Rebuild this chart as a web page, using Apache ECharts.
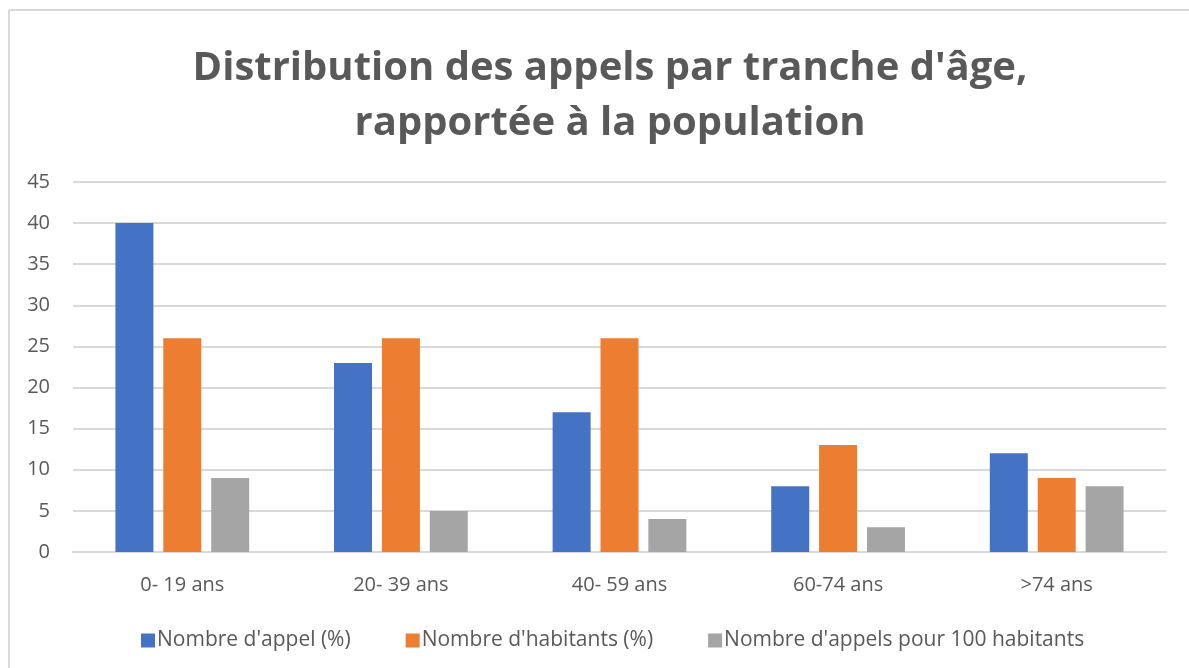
<!DOCTYPE html>
<html>
<head>
<meta charset="utf-8">
<script src="https://cdn.jsdelivr.net/npm/echarts@6/dist/echarts.min.js"></script>
<style>
  html, body { margin: 0; padding: 0; background: #fff; }
  #my_chart { width: 1189px; height: 668px; }
</style>
</head>
<body>
<div id="my_chart"></div>
<script>
// categories (x axis)
var categories = ['0- 19 ans', '20- 39 ans', '40- 59 ans', '60-74 ans', '>74 ans'];
// series names
var seriesNames = ["Nombre d'appel (%)", "Nombre d'habitants (%)", "Nombre d'appels pour 100 habitants"];
// values
var appels = [40, 23, 17, 8, 12];
var habitants = [26, 26, 26, 13, 9];
var appelsPour100 = [9, 5, 4, 3, 8];

var font = "'Open Sans', 'Noto Sans', sans-serif";
var grey = '#595959';

var myChart = echarts.init(document.getElementById('my_chart'));
var option = {
    animation: false,
    color: ['#4472C4', '#ED7D31', '#A5A5A5'],
    // cadre du graphique (haut + gauche seulement visibles)
    graphic: [{
        type: 'line',
        shape: { x1: 9, y1: 10, x2: 1189, y2: 10 },
        style: { stroke: '#d9d9d9', lineWidth: 2 },
        silent: true
    }, {
        type: 'line',
        shape: { x1: 9, y1: 10, x2: 9, y2: 668 },
        style: { stroke: '#d9d9d9', lineWidth: 2 },
        silent: true
    }],
    title: {
        text: "Distribution des appels par tranche d'âge,\nrapportée à la population",
        left: 605,
        textAlign: 'center',
        top: 36,
        textStyle: {
            color: grey,
            fontFamily: font,
            fontWeight: 'bold',
            fontSize: 40,
            lineHeight: 55
        }
    },
    legend: {
        data: seriesNames,
        left: 136,
        top: 625,
        itemWidth: 14,
        itemHeight: 14,
        itemGap: 55,
        icon: 'rect',
        textStyle: { color: grey, fontFamily: font, fontSize: 21, padding: [0, 0, 0, -3] }
    },
    grid: { left: 73, right: 23, top: 182, bottom: 116 },
    xAxis: [{
        type: 'category',
        data: categories,
        axisTick: { show: false },
        axisLine: { lineStyle: { color: '#d9d9d9', width: 2 } },
        axisLabel: { color: grey, fontFamily: font, fontSize: 20, margin: 23 }
    }],
    yAxis: [{
        type: 'value',
        min: 0,
        max: 45,
        interval: 5,
        axisLine: { show: false },
        axisTick: { show: false },
        splitLine: { lineStyle: { color: '#d9d9d9', width: 2 } },
        axisLabel: { color: grey, fontFamily: font, fontSize: 20, margin: 23 }
    }],
    series: [
        { name: seriesNames[0], type: 'bar', barWidth: 38, barGap: '26%', data: appels },
        { name: seriesNames[1], type: 'bar', barWidth: 38, barGap: '26%', data: habitants },
        { name: seriesNames[2], type: 'bar', barWidth: 38, barGap: '26%', data: appelsPour100 }
    ]
};
myChart.setOption(option);
</script>
</body>
</html>
